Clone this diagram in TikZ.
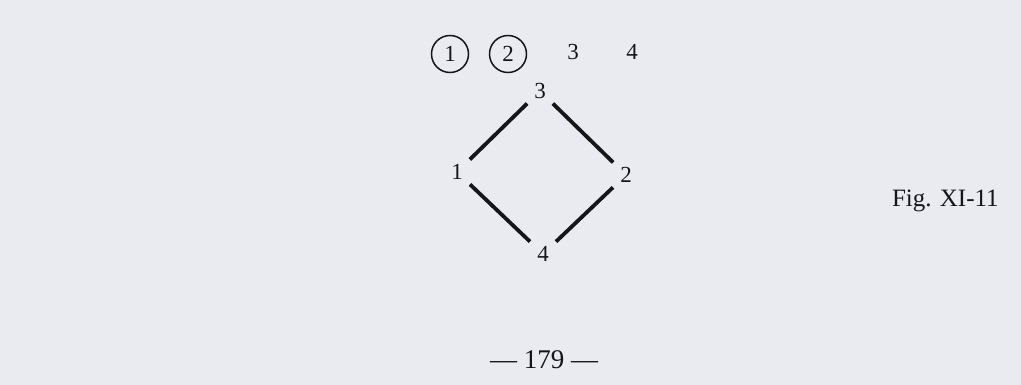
\documentclass[tikz,border=0pt]{standalone}
\usepackage{fontspec}
\setmainfont{Liberation Serif}
\definecolor{pagebg}{RGB}{233,235,241}
\definecolor{ink}{RGB}{22,22,24}
\tikzset{
  lbl/.style={inner sep=0pt,outer sep=0pt,text=ink,font=\fontsize{23}{27}\selectfont},
  vtx/.style={lbl,circle,minimum size=36pt},
  ringed/.style={lbl,circle,draw=ink,line width=1.5pt,minimum size=37pt},
  edge/.style={draw=ink,line width=3.8pt}
}
\begin{document}
\begin{tikzpicture}[x=1pt,y=-1pt]
\path[use as bounding box,fill=pagebg] (0,0) rectangle (1021,385);
% row of labels at the top
\node[ringed] (r1) at (450,54) {1};
\node[ringed] (r2) at (508,54) {2};
\node[lbl] (r3) at (573,52) {3};
\node[lbl] (r4) at (632,52) {4};
% diamond
\node[vtx] (v3) at (540,91) {3};
\node[vtx] (v1) at (457,172) {1};
\node[vtx] (v2) at (626,175) {2};
\node[vtx] (v4) at (543,254) {4};
\draw[edge] (v3) -- (v1);
\draw[edge] (v3) -- (v2);
\draw[edge] (v1) -- (v4);
\draw[edge] (v2) -- (v4);
% caption and page number
\node[lbl,anchor=base west,font=\fontsize{25}{29}\selectfont] (fig) at (892,207) {Fig. XI-11};
\node[lbl,anchor=base,font=\fontsize{27}{31}\selectfont] (page) at (544,368) {--- 179 ---};
\end{tikzpicture}
\end{document}
